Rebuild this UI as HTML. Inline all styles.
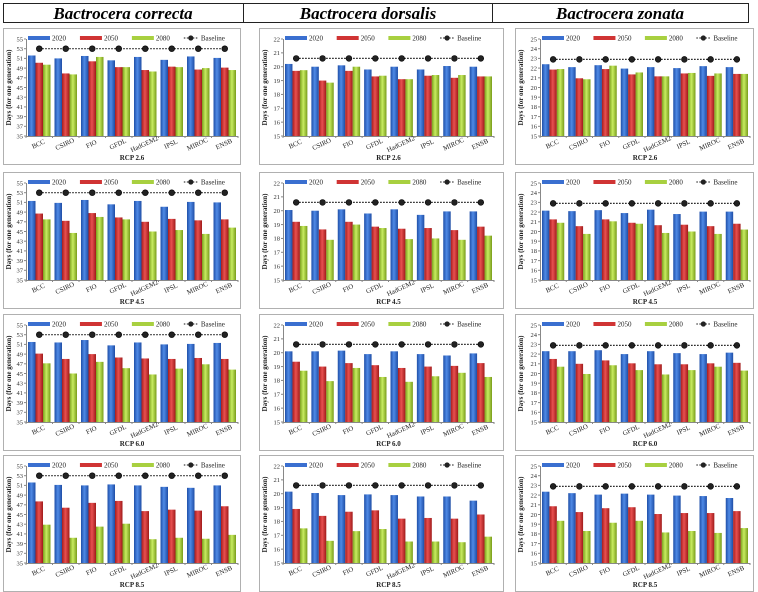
<!DOCTYPE html>
<html><head><meta charset="utf-8">
<style>
html,body{margin:0;padding:0;background:#fff;}
svg{display:block;font-family:"Liberation Serif",serif;}
</style></head>
<body>
<svg id="fig" width="758" height="592" viewBox="0 0 758 592">
<defs>
<linearGradient id="gB" x1="0" x2="1"><stop offset="0" stop-color="#1f4fa8"/><stop offset="0.45" stop-color="#4f8ae6"/><stop offset="1" stop-color="#1e4da5"/></linearGradient>
<linearGradient id="gR" x1="0" x2="1"><stop offset="0" stop-color="#a81c1c"/><stop offset="0.45" stop-color="#e85050"/><stop offset="1" stop-color="#a01a1a"/></linearGradient>
<linearGradient id="gG" x1="0" x2="1"><stop offset="0" stop-color="#7aa01c"/><stop offset="0.45" stop-color="#c8ec60"/><stop offset="1" stop-color="#789c1a"/></linearGradient>
</defs>
<g>
<rect x="3.5" y="3.5" width="745" height="19" fill="#fff" stroke="#222" stroke-width="1"/>
<line x1="243.5" y1="3" x2="243.5" y2="23" stroke="#222"/>
<line x1="492.5" y1="3" x2="492.5" y2="23" stroke="#222"/>
<text x="123" y="19" text-anchor="middle" font-size="17" font-weight="bold" font-style="italic">Bactrocera correcta</text>
<text x="368" y="19" text-anchor="middle" font-size="17" font-weight="bold" font-style="italic">Bactrocera dorsalis</text>
<text x="620" y="19" text-anchor="middle" font-size="17" font-weight="bold" font-style="italic">Bactrocera zonata</text>
</g>
<g id="panels"></g>
</svg>
<script>
const categories=["BCC","CSIRO","FIO","GFDL","HadGEM2","IPSL","MIROC","ENSB"];
const series=["2020","2050","2080"];
const scenarios=["RCP 2.6","RCP 4.5","RCP 6.0","RCP 8.5"];
const baselineC=53, baselineD=20.6, baselineZ=22.9;
const yTicksC=[35,37,39,41,43,45,47,49,51,53,55];
const yTicksD=[15,16,17,18,19,20,21,22];
const yTicksZ=[15,16,17,18,19,20,21,22,23,24,25];
// B. correcta
const c26_2020=[51.6,51.0,51.5,50.6,51.3,50.7,51.4,51.1];
const c26_2050=[50.1,47.9,50.4,49.2,48.6,49.3,48.7,49.1];
const c26_2080=[49.7,47.7,51.3,49.2,48.3,49.2,49.0,48.6];
const c45_2020=[51.3,50.9,51.5,50.6,51.3,50.1,51.1,51.0];
const c45_2050=[48.7,47.2,48.8,47.9,47.0,47.6,47.3,47.5];
const c45_2080=[47.5,44.7,48.0,47.5,45.0,45.3,44.5,45.8];
const c60_2020=[51.5,51.4,51.9,50.8,51.4,51.0,51.1,51.3];
const c60_2050=[49.1,48.0,49.0,48.3,48.1,48.0,48.2,48.0];
const c60_2080=[47.1,45.0,47.4,46.1,44.8,46.0,46.9,45.8];
const c85_2020=[51.6,51.1,51.0,51.2,51.0,50.7,50.5,51.0];
const c85_2050=[47.7,46.4,47.4,47.8,45.7,46.0,45.8,46.7];
const c85_2080=[42.9,40.2,42.5,43.1,39.9,40.2,40.0,40.8];
// B. dorsalis
const d26_2020=[20.2,20.0,20.1,19.8,20.0,19.8,20.05,20.0];
const d26_2050=[19.7,19.0,19.7,19.3,19.1,19.35,19.2,19.3];
const d26_2080=[19.75,18.85,20.0,19.35,19.1,19.4,19.4,19.3];
const d45_2020=[20.05,20.0,20.1,19.8,20.1,19.7,19.95,19.95];
const d45_2050=[19.2,18.65,19.2,18.85,18.7,18.75,18.6,18.85];
const d45_2080=[18.9,17.9,19.0,18.75,17.95,18.0,17.9,18.2];
const d60_2020=[20.1,20.1,20.15,19.9,20.1,19.9,19.8,19.95];
const d60_2050=[19.35,19.0,19.25,19.1,18.9,19.0,19.05,19.25];
const d60_2080=[18.7,17.95,18.9,18.25,17.9,18.3,18.55,18.25];
const d85_2020=[20.15,20.05,19.9,19.95,19.9,19.8,19.8,19.5];
const d85_2050=[18.9,18.4,18.7,18.8,18.2,18.25,18.2,18.5];
const d85_2080=[17.5,16.6,17.3,17.45,16.55,16.55,16.5,16.9];
// B. zonata
const z26_2020=[22.4,22.1,22.3,21.95,22.1,22.0,22.2,22.1];
const z26_2050=[21.85,20.95,21.9,21.35,21.15,21.45,21.2,21.4];
const z26_2080=[21.9,20.85,22.25,21.55,21.15,21.5,21.45,21.4];
const z45_2020=[22.15,22.1,22.2,21.9,22.25,21.8,22.05,22.05];
const z45_2050=[21.25,20.55,21.25,20.9,20.65,20.7,20.55,20.8];
const z45_2080=[20.9,19.75,21.05,20.8,19.85,20.0,19.75,20.2];
const z60_2020=[22.3,22.3,22.4,22.0,22.3,22.1,22.0,22.15];
const z60_2050=[21.5,21.0,21.35,21.05,20.95,20.95,21.05,21.1];
const z60_2080=[20.7,19.95,20.85,20.35,19.9,20.35,20.7,20.3];
const z85_2020=[22.35,22.2,22.05,22.15,22.05,21.95,21.9,21.7];
const z85_2050=[20.85,20.25,20.65,20.75,20.05,20.15,20.15,20.35];
const z85_2080=[19.35,18.3,19.15,19.35,18.15,18.3,18.1,18.6];

const NS="http://www.w3.org/2000/svg";
const root=document.getElementById('panels');
function mk(tag,attrs,parent,txt){const e=document.createElementNS(NS,tag);for(const k in attrs)e.setAttribute(k,attrs[k]);if(txt!==undefined)e.textContent=txt;parent.appendChild(e);return e;}

const cols=[
 {px:3,pw:237,ax:26,ar:238,ticks:yTicksC,base:baselineC,data:[[c26_2020,c26_2050,c26_2080],[c45_2020,c45_2050,c45_2080],[c60_2020,c60_2050,c60_2080],[c85_2020,c85_2050,c85_2080]],key:'correcta'},
 {px:259,pw:244,ax:283,ar:494,ticks:yTicksD,base:baselineD,data:[[d26_2020,d26_2050,d26_2080],[d45_2020,d45_2050,d45_2080],[d60_2020,d60_2050,d60_2080],[d85_2020,d85_2050,d85_2080]],key:'dorsalis'},
 {px:515,pw:238,ax:540,ar:750,ticks:yTicksZ,base:baselineZ,data:[[z26_2020,z26_2050,z26_2080],[z45_2020,z45_2050,z45_2080],[z60_2020,z60_2050,z60_2080],[z85_2020,z85_2050,z85_2080]],key:'zonata'}
];
const rowTops=[28,172,314,455];
const fills=["url(#gB)","url(#gR)","url(#gG)"];
const swatch=["#3a6fd0","#d03434","#a8d040"];

cols.forEach((col,ci)=>{
 rowTops.forEach((pt,ri)=>{
  const g=mk('g',{},root);
  
  
  const ph=136;
  const frame=mk('rect',{x:col.px+0.5,y:pt+0.5,width:col.pw,height:ph,fill:'#fff',stroke:'#b0b0b0'},g);
  
  
  const top=pt+11, bot=pt+108;
  const ymin=col.ticks[0], ymax=col.ticks[col.ticks.length-1];
  const y=v=>bot-(v-ymin)/(ymax-ymin)*(bot-top);
  const gw=(col.ar-col.ax)/categories.length;
  const xg=i=>col.ax+i*gw;
  const bw=(gw-4)/3;
  const yax=mk('line',{x1:col.ax+0.5,y1:top,x2:col.ax+0.5,y2:bot,stroke:'#888'},g);
  
  
  const xax=mk('line',{x1:col.ax,y1:bot+0.5,x2:col.ar,y2:bot+0.5,stroke:'#888'},g);
  
  
  col.ticks.forEach(t=>{
   mk('line',{x1:col.ax-2,y1:y(t),x2:col.ax,y2:y(t),stroke:'#888'},g);
   const tl=mk('text',{x:col.ax-3,y:y(t)+2.3,'text-anchor':'end','font-size':6.5,fill:'#333'},g,String(t));
   
   
  });
  for(let i=0;i<=categories.length;i++) mk('line',{x1:xg(i),y1:bot,x2:xg(i),y2:bot+2,stroke:'#888'},g);
  col.data[ri].forEach((arr,si)=>{
   arr.forEach((v,i)=>{
    const r=mk('rect',{x:xg(i)+2+si*bw,y:y(v),width:bw,height:bot-y(v),fill:fills[si]},g);
    
    
   });
  });
  const bl=mk('line',{x1:xg(0.5),y1:y(col.base),x2:xg(categories.length-0.5),y2:y(col.base),stroke:'#111','stroke-width':1.2,'stroke-dasharray':'1.5,1.5'},g);
  
  
  categories.forEach((c,i)=>{
   const m=mk('circle',{cx:xg(i+0.5),cy:y(col.base),r:2.9,fill:'#222',stroke:'#000','stroke-width':0.6},g);
   
   
   const cx=xg(i+0.5), cy=bot+10;
   const cl=mk('text',{x:cx,y:cy,'text-anchor':'middle','font-size':6.8,fill:'#222',transform:`rotate(-25 ${cx} ${cy})`},g,c);
   
   
  });
  const lw=col.ar-col.ax;
  const ly=pt+10;
  series.forEach((s,si)=>{
   const lx=col.ax+2+si*lw*0.245;
   mk('rect',{x:lx,y:ly-2,width:22,height:4,fill:swatch[si]},g);
   const lt=mk('text',{x:lx+24,y:ly+2.5,'font-size':7,fill:'#222'},g,s);
   
   
  });
  const bx=col.ax+2+3*lw*0.245;
  mk('line',{x1:bx,y1:ly,x2:bx+14,y2:ly,stroke:'#111','stroke-dasharray':'1.5,1.5'},g);
  mk('circle',{cx:bx+7,cy:ly,r:2.6,fill:'#222'},g);
  const blt=mk('text',{x:bx+17,y:ly+2.5,'font-size':7,fill:'#222'},g,'Baseline');
  
  
  const yx=col.px+8, yy=(top+bot)/2;
  const yt=mk('text',{x:yx,y:yy,'text-anchor':'middle','font-size':7,'font-weight':'bold',fill:'#222',transform:`rotate(-90 ${yx} ${yy})`},g,'Days (for one generation)');
  
  
  const xt=mk('text',{x:(col.ax+col.ar)/2,y:pt+132,'text-anchor':'middle','font-size':7,'font-weight':'bold',fill:'#222'},g,scenarios[ri]);
  
  
 });
});
</script>
</body></html>
